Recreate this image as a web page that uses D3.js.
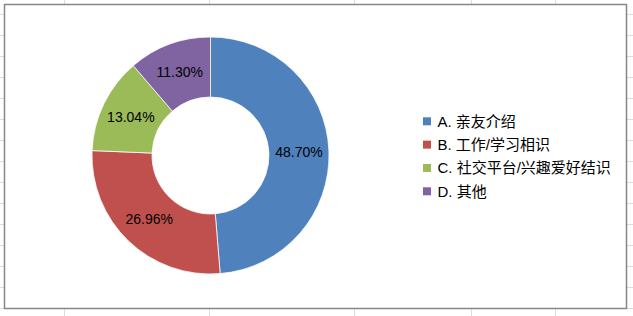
<!DOCTYPE html>
<html lang="zh">
<head>
    <meta charset="UTF-8">
    <title>渠道占比</title>
    <style>
        body{ margin:0; background:#fff; }
        .grid line{ stroke:#dadcdd; stroke-width:1; shape-rendering:crispEdges; }
        .label{ font:14px "Liberation Sans", "Noto Sans CJK SC", sans-serif; fill:#000; }
        .legend text{ font:15px "Liberation Sans", "Noto Sans CJK SC", sans-serif; fill:#000; }
    </style>
</head>
<body>
    <svg width="633" height="316"></svg>
    <script src="https://d3js.org/d3.v7.min.js"></script>
    <script>
        var categories = ["A. 亲友介绍", "B. 工作/学习相识", "C. 社交平台/兴趣爱好结识", "D. 其他"];
        var values = [48.70, 26.96, 13.04, 11.30];
        var labels = ["48.70%", "26.96%", "13.04%", "11.30%"];
        var colors = ["#4f81bd", "#c0504d", "#9bbb59", "#8064a2"];

        // spreadsheet cell lines behind the chart
        var colLines = [64, 209, 354, 471, 555];
        var rowLines = d3.range(14, 309, 21);

        var svg = d3.select("svg"),
            width = +svg.attr("width"),
            height = +svg.attr("height");

        var grid = svg.append("g").attr("class", "grid");
        grid.selectAll(".v").data(colLines).enter().append("line")
            .attr("x1", function(d){ return d + 0.5; }).attr("x2", function(d){ return d + 0.5; })
            .attr("y1", 0).attr("y2", height);
        grid.selectAll(".h").data(rowLines).enter().append("line")
            .attr("x1", 0).attr("x2", width)
            .attr("y1", function(d){ return d + 0.5; }).attr("y2", function(d){ return d + 0.5; });

        // chart area
        svg.append("rect")
            .attr("x", 4.5).attr("y", 4.5)
            .attr("width", 622).attr("height", 304)
            .attr("fill", "#fff")
            .attr("stroke", "#868686")
            .attr("stroke-width", 1.5);

        var cx = 210.5, cy = 155.5,
            outer = 118.5, inner = 58.5;

        var pie = d3.pie().sort(null).value(function(d){ return d; });
        var arc = d3.arc().innerRadius(inner).outerRadius(outer);

        var g = svg.append("g")
            .attr("transform", "translate(" + cx + "," + cy + ")");

        var arcs = pie(values);

        g.selectAll("path")
            .data(arcs)
            .enter().append("path")
            .attr("d", arc)
            .attr("fill", function(d, i){ return colors[i]; })
            .attr("stroke", "#fff")
            .attr("stroke-width", 0.75);

        g.selectAll(".label")
            .data(arcs)
            .enter().append("text")
            .attr("class", "label")
            .attr("transform", function(d){ return "translate(" + arc.centroid(d) + ")"; })
            .attr("text-anchor", "middle")
            .attr("dy", "0.35em")
            .text(function(d, i){ return labels[i]; });

        // legend
        var legendY = d3.scalePoint().domain(categories).range([121.3, 191.3]);

        var legend = svg.append("g").attr("class", "legend")
            .selectAll("g")
            .data(categories)
            .enter().append("g")
            .attr("transform", function(d){ return "translate(423," + legendY(d) + ")"; });

        legend.append("rect")
            .attr("x", 0).attr("y", -4)
            .attr("width", 8).attr("height", 8)
            .attr("fill", function(d, i){ return colors[i]; });

        legend.append("text")
            .attr("x", 14.5)
            .attr("dy", "0.36em")
            .text(function(d){ return d; });
    </script>
</body>
</html>
